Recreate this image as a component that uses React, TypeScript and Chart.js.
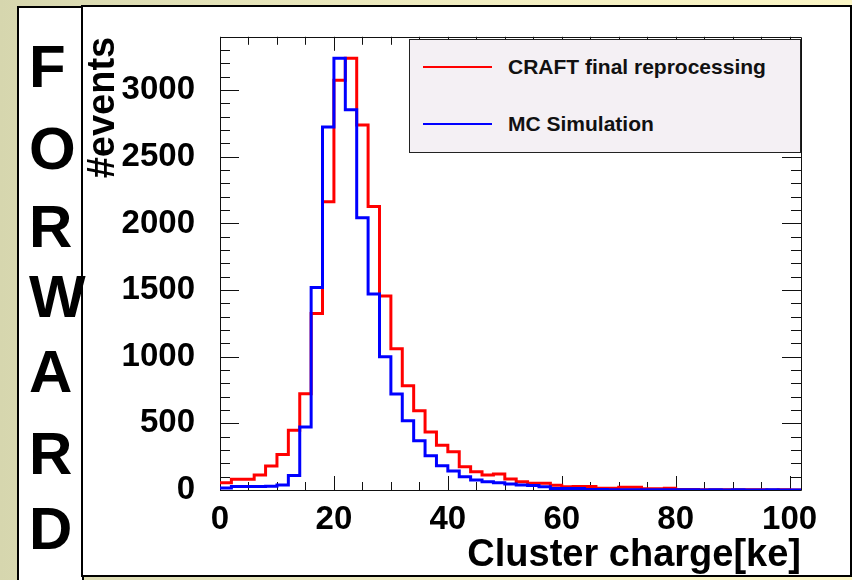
import React, { useEffect, useRef } from "react";
import { Chart, registerables } from "chart.js";

Chart.register(...registerables);

// ---- data ----
const binLowEdges = [
  0, 2, 4, 6, 8, 10, 12, 14, 16, 18, 20, 22, 24, 26, 28, 30, 32, 34, 36, 38,
  40, 42, 44, 46, 48, 50, 52, 54, 56, 58, 60, 62, 64, 66, 68, 70, 72, 74, 76, 78,
  80, 82, 84, 86, 88, 90, 92, 94, 96, 98, 100,
];
const xUpperEdge = 102;

const craftCounts = [
  55, 80, 80, 112, 180, 266, 448, 722, 1325, 2162,
  3074, 3239, 2738, 2127, 1455, 1059, 783, 594, 436, 336,
  287, 174, 137, 112, 120, 82, 62, 50, 50, 35,
  25, 27, 27, 13, 13, 20, 20, 10, 10, 13,
  4, 3, 2, 2, 1, 2, 1, 1, 0, 1,
  0,
];
const mcCounts = [
  15, 27, 27, 27, 28, 37, 108, 473, 1520, 2723,
  3239, 2853, 2043, 1470, 1000, 720, 520, 370, 257, 182,
  142, 100, 75, 62, 55, 45, 37, 33, 25, 12,
  12, 12, 3, 3, 2, 2, 2, 1, 2, 1,
  1, 1, 0, 1, 0, 1, 0, 0, 1, 0,
  0,
];

const seriesNames = ["CRAFT final reprocessing", "MC Simulation"];
const seriesColors = ["#ff0000", "#0000ff"];

const xTickValues = [0, 20, 40, 60, 80, 100];
const yTickValues = [0, 500, 1000, 1500, 2000, 2500, 3000];
const xMin = 0;
const xMax = 102;
const yMin = 0;
const yMax = 3400;
const xMinorStep = 5;
const yMinorStep = 100;

const xAxisTitle = "Cluster charge[ke]";
const yAxisTitle = "#events";
const sideLetters = ["F", "O", "R", "W", "A", "R", "D"];
const sideLetterTops = [37, 119, 197, 267, 342, 424, 499];

const FONT = "'Liberation Sans', Arial, Helvetica, sans-serif";

function toPoints(counts: number[]) {
  const pts = binLowEdges.map((x, i) => ({ x, y: counts[i] }));
  pts.push({ x: xUpperEdge, y: counts[counts.length - 1] });
  return pts;
}

const framePlugin = {
  id: "rootFrame",
  beforeDatasetsDraw(chart: any) {
    const { ctx, chartArea, scales } = chart;
    const { left, right, top, bottom } = chartArea;
    ctx.save();
    ctx.strokeStyle = "#111";
    ctx.lineWidth = 1;
    ctx.beginPath();
    ctx.rect(Math.round(left) + 0.5, Math.round(top) + 0.5, Math.round(right - left), Math.round(bottom - top));
    ctx.stroke();
    ctx.beginPath();
    for (let v = xMin; v <= xMax + 1e-9; v += xMinorStep) {
      const px = Math.round(scales.x.getPixelForValue(v)) + 0.5;
      const major = v % 20 === 0;
      const len = major ? 14 : 8;
      ctx.moveTo(px, bottom);
      ctx.lineTo(px, bottom - len);
      ctx.moveTo(px, top);
      ctx.lineTo(px, top + len);
    }
    for (let v = yMin; v <= yMax + 1e-9; v += yMinorStep) {
      const py = Math.round(scales.y.getPixelForValue(v)) + 0.5;
      const major = v % 500 === 0;
      const len = major ? 19 : 10;
      ctx.moveTo(left, py);
      ctx.lineTo(left + len, py);
      ctx.moveTo(right, py);
      ctx.lineTo(right - len, py);
    }
    ctx.stroke();
    ctx.restore();
  },
};

function ChartCanvas() {
  const ref = useRef<HTMLCanvasElement | null>(null);
  useEffect(() => {
    if (!ref.current) return;
    const chart = new Chart(ref.current, {
      type: "line",
      data: {
        datasets: [
          {
            label: seriesNames[0],
            data: toPoints(craftCounts),
            borderColor: seriesColors[0],
            borderWidth: 3,
            stepped: "before",
            pointRadius: 0,
            fill: false,
            order: 2,
          },
          {
            label: seriesNames[1],
            data: toPoints(mcCounts),
            borderColor: seriesColors[1],
            borderWidth: 3,
            stepped: "before",
            pointRadius: 0,
            fill: false,
            order: 1,
          },
        ],
      },
      options: {
        animation: false,
        responsive: false,
        maintainAspectRatio: false,
        devicePixelRatio: 1,
        layout: { padding: { left: 0, top: 35, right: 51, bottom: 0 } },
        plugins: { legend: { display: false }, tooltip: { enabled: false } },
        scales: {
          x: {
            type: "linear",
            min: xMin,
            max: xMax,
            grid: { display: false },
            border: { display: false },
            ticks: {
              color: "#000",
              font: { family: FONT, size: 33, weight: "bold" },
              padding: 2,
              maxRotation: 0,
              autoSkip: false,
              callback: (v: any) => String(v),
            },
            afterBuildTicks: (s: any) => {
              s.ticks = xTickValues.map((v) => ({ value: v }));
            },
            afterFit: (s: any) => {
              s.height = 90;
            },
            title: {
              display: true,
              text: xAxisTitle,
              align: "end",
              color: "#000",
              font: { family: FONT, size: 38, weight: "bold" },
              padding: { top: 0, bottom: 2 },
            },
          },
          y: {
            type: "linear",
            min: yMin,
            max: yMax,
            grid: { display: false },
            border: { display: false },
            ticks: {
              color: "#000",
              font: { family: FONT, size: 33, weight: "bold" },
              padding: 17,
              autoSkip: false,
              callback: (v: any) => String(v),
            },
            afterBuildTicks: (s: any) => {
              s.ticks = yTickValues.map((v) => ({ value: v }));
            },
            afterFit: (s: any) => {
              s.width = 220;
            },
            title: {
              display: true,
              text: yAxisTitle,
              align: "end",
              color: "#000",
              font: { family: FONT, size: 38, weight: "bold" },
              padding: { top: 81, bottom: 0 },
            },
          },
        },
      },
      plugins: [framePlugin],
    } as any);
    return () => chart.destroy();
  }, []);
  return (
    <canvas
      ref={ref}
      width={852}
      height={580}
      style={{ position: "absolute", left: 0, top: 0, width: 852, height: 580 }}
    />
  );
}

export default function App() {
  return (
    <div
      style={{
        position: "fixed",
        left: 0,
        top: 0,
        width: 852,
        height: 580,
        overflow: "hidden",
        background: "linear-gradient(to right, #d6d6ae 0%, #e4e3b8 25%, #f3efc2 60%, #fbf6c5 100%)",
        fontFamily: FONT,
      }}
    >
      <div
        style={{
          position: "absolute",
          left: 17,
          top: 6,
          width: 67,
          height: 600,
          background: "#fff",
          border: "2px solid #000",
          boxSizing: "border-box",
        }}
      />
      <div
        style={{
          position: "absolute",
          left: 81,
          top: 5,
          width: 771,
          height: 572,
          background: "#fff",
          border: "2px solid #000",
          boxSizing: "border-box",
        }}
      />
      {sideLetters.map((ch, i) => (
        <div
          key={i}
          style={{
            position: "absolute",
            left: 29,
            top: sideLetterTops[i],
            fontSize: 60,
            lineHeight: "60px",
            fontWeight: "bold",
            color: "#000",
            zIndex: 3,
          }}
        >
          {ch}
        </div>
      ))}
      <ChartCanvas />
      <div
        style={{
          position: "absolute",
          left: 409,
          top: 39,
          width: 392,
          height: 114,
          background: "#f4f0f4",
          border: "1px solid #222",
          boxSizing: "border-box",
          zIndex: 4,
        }}
      >
        {seriesNames.map((name, i) => (
          <div key={i}>
            <div
              style={{
                position: "absolute",
                left: 13,
                top: 27 + i * 57 - 1,
                width: 69,
                height: 2,
                background: seriesColors[i],
              }}
            />
            <div
              style={{
                position: "absolute",
                left: 98,
                top: 27 + i * 57 - 13,
                fontSize: 21,
                lineHeight: "26px",
                fontWeight: "bold",
                color: "#111",
                whiteSpace: "nowrap",
              }}
            >
              {name}
            </div>
          </div>
        ))}
      </div>
    </div>
  );
}
